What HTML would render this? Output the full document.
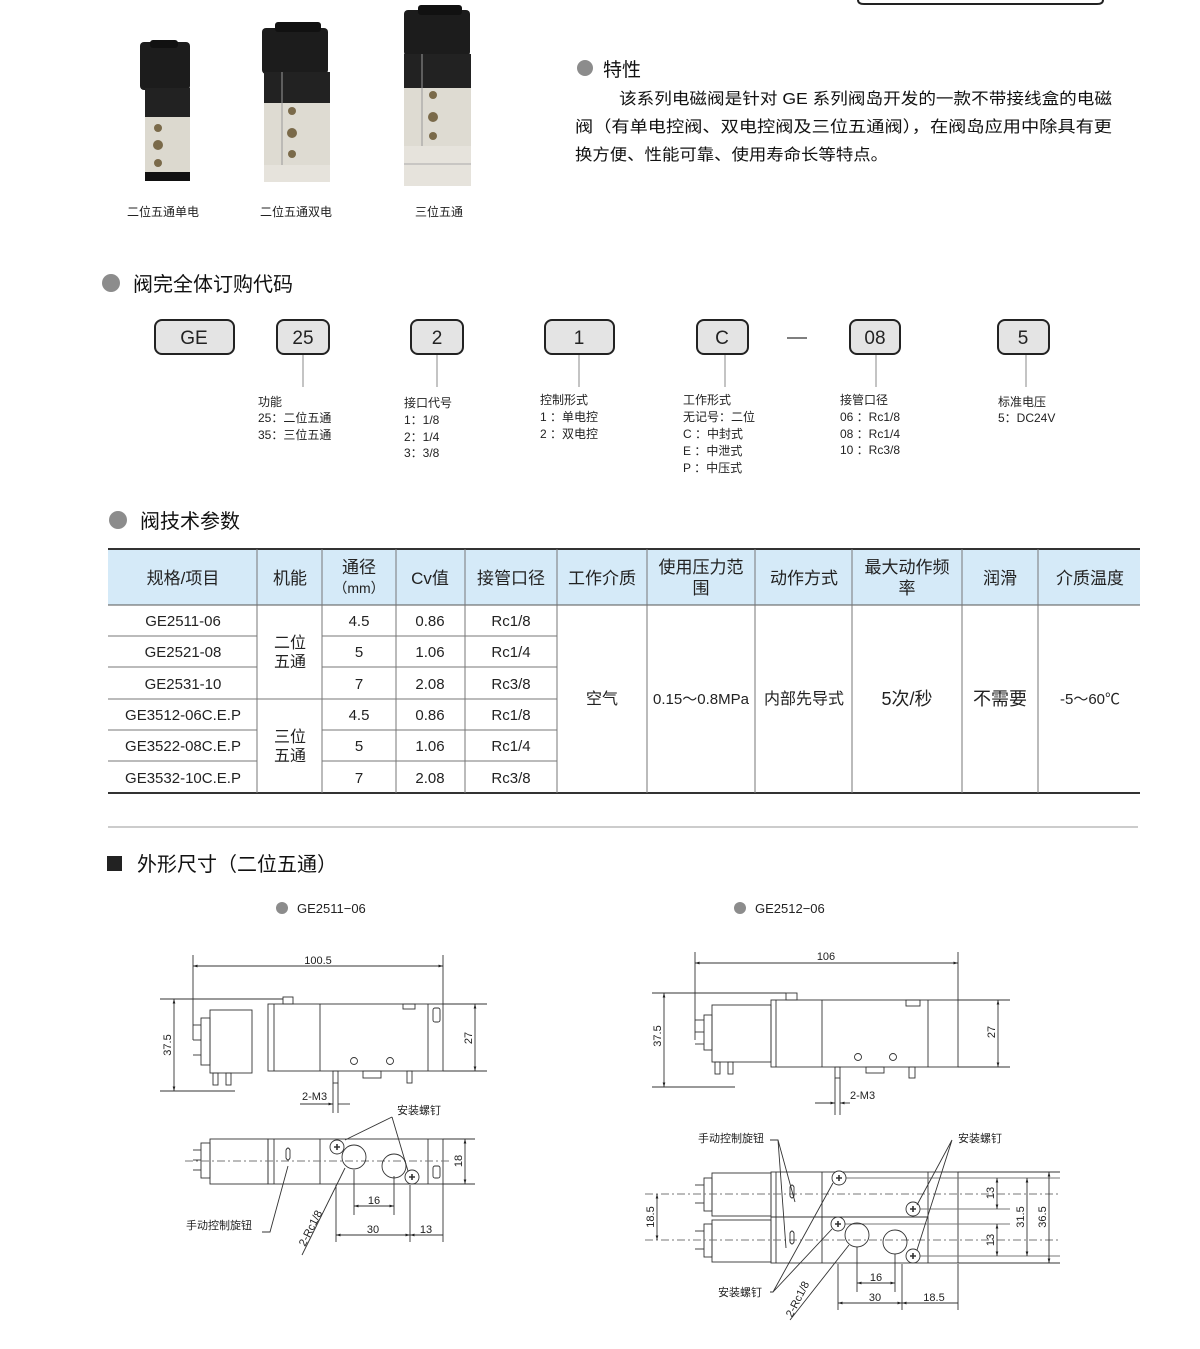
<!DOCTYPE html>
<html><head><meta charset="utf-8">
<style>
html,body{margin:0;padding:0;background:#fff;}
body{width:1200px;height:1349px;overflow:hidden;position:relative;font-family:"Liberation Sans","Noto Sans CJK SC",sans-serif;}
svg{position:absolute;left:0;top:0;}
</style></head><body>
<svg width="1200" height="1349" viewBox="0 0 1200 1349" xmlns="http://www.w3.org/2000/svg" font-family="Liberation Sans, Noto Sans CJK SC, sans-serif">
<defs>
<marker id="a" viewBox="0 0 10 10" refX="10" refY="5" markerWidth="7" markerHeight="5" orient="auto-start-reverse"><path d="M0,2 L10,5 L0,8z" fill="#222"/></marker>
</defs>
<path d="M858,-10 L858,0 Q858,4 864,4 L1097,4 Q1103,4 1103,0 L1103,-10" fill="none" stroke="#222" stroke-width="2"/>

<g>
<rect x="140" y="42" width="50" height="48" rx="4" fill="#1c1c1c"/>
<rect x="150" y="40" width="28" height="8" rx="3" fill="#111"/>
<rect x="145" y="88" width="45" height="30" fill="#222"/>
<rect x="145" y="117" width="45" height="56" fill="#dcd9cf"/>
<circle cx="158" cy="128" r="4" fill="#7a6a4a"/><circle cx="158" cy="145" r="5" fill="#7a6a4a"/><circle cx="158" cy="163" r="4" fill="#7a6a4a"/>
<rect x="145" y="172" width="45" height="9" fill="#111"/>
</g>
<g>
<rect x="262" y="28" width="66" height="46" rx="4" fill="#1c1c1c"/>
<rect x="275" y="22" width="46" height="10" rx="3" fill="#111"/>
<rect x="264" y="72" width="66" height="32" fill="#222"/>
<rect x="264" y="103" width="66" height="62" fill="#dedbd2"/>
<rect x="264" y="165" width="66" height="17" fill="#e6e3dc"/>
<circle cx="292" cy="111" r="4" fill="#7a6a4a"/><circle cx="292" cy="133" r="5" fill="#7a6a4a"/><circle cx="292" cy="154" r="4" fill="#7a6a4a"/>
<line x1="282" y1="72" x2="282" y2="165" stroke="#999"/>
</g>
<g>
<rect x="404" y="10" width="66" height="46" rx="4" fill="#1c1c1c"/>
<rect x="418" y="5" width="44" height="10" rx="3" fill="#111"/>
<rect x="404" y="54" width="67" height="34" fill="#222"/>
<rect x="404" y="88" width="67" height="60" fill="#dedbd2"/>
<rect x="404" y="146" width="67" height="40" fill="#e6e3dc"/>
<line x1="404" y1="164" x2="471" y2="164" stroke="#aaa"/>
<circle cx="433" cy="95" r="4" fill="#7a6a4a"/><circle cx="433" cy="117" r="5" fill="#7a6a4a"/><circle cx="433" cy="136" r="4" fill="#7a6a4a"/>
<line x1="422" y1="54" x2="422" y2="146" stroke="#999"/>
</g>
<g font-size="12" fill="#222">
<text x="127" y="216">二位五通单电</text>
<text x="260" y="216">二位五通双电</text>
<text x="415" y="216">三位五通</text>
</g>

<circle cx="585" cy="68" r="8" fill="#8c8c8c"/>
<text x="603" y="76" font-size="19" fill="#111">特性</text>
<g font-size="16" fill="#111">
<text x="619" y="104" textLength="493" lengthAdjust="spacingAndGlyphs">该系列电磁阀是针对 GE 系列阀岛开发的一款不带接线盒的电磁</text>
<text x="575" y="132" textLength="537" lengthAdjust="spacingAndGlyphs">阀（有单电控阀、双电控阀及三位五通阀），在阀岛应用中除具有更</text>
<text x="575" y="160" textLength="313" lengthAdjust="spacingAndGlyphs">换方便、性能可靠、使用寿命长等特点。</text>
</g>

<circle cx="111" cy="283" r="9" fill="#8c8c8c"/>
<text x="133" y="291" font-size="20" fill="#111">阀完全体订购代码</text>
<g fill="#e4e4e4" stroke="#222" stroke-width="2">
<rect x="155" y="320" width="79" height="34" rx="7"/>
<rect x="277" y="320" width="52" height="34" rx="7"/>
<rect x="411" y="320" width="52" height="34" rx="7"/>
<rect x="545" y="320" width="69" height="34" rx="7"/>
<rect x="697" y="320" width="51" height="34" rx="7"/>
<rect x="850" y="320" width="50" height="34" rx="7"/>
<rect x="998" y="320" width="51" height="34" rx="7"/>
</g>
<g font-size="19" fill="#222" text-anchor="middle">
<text x="194" y="344">GE</text><text x="303" y="344">25</text><text x="437" y="344">2</text>
<text x="579" y="344">1</text><text x="722" y="344">C</text><text x="875" y="344">08</text><text x="1023" y="344">5</text>
</g>
<line x1="787" y1="338" x2="807" y2="338" stroke="#333" stroke-width="1.2"/>
<g stroke="#888" stroke-width="1">
<line x1="303" y1="355" x2="303" y2="387"/><line x1="437" y1="355" x2="437" y2="387"/>
<line x1="579" y1="355" x2="579" y2="387"/><line x1="725" y1="355" x2="725" y2="387"/>
<line x1="876" y1="355" x2="876" y2="387"/><line x1="1026" y1="355" x2="1026" y2="387"/>
</g>
<g font-size="12" fill="#222">
<text x="258" y="406">功能</text><text x="258" y="422">25：二位五通</text><text x="258" y="439">35：三位五通</text>
<text x="404" y="407">接口代号</text><text x="404" y="424">1：1/8</text><text x="404" y="441">2：1/4</text><text x="404" y="457">3：3/8</text>
<text x="540" y="404">控制形式</text><text x="540" y="421">1 ：单电控</text><text x="540" y="438">2 ：双电控</text>
<text x="683" y="404">工作形式</text><text x="683" y="421">无记号：二位</text><text x="683" y="438">C ：中封式</text><text x="683" y="455">E ：中泄式</text><text x="683" y="472">P ：中压式</text>
<text x="840" y="404">接管口径</text><text x="840" y="421">06 ：Rc1/8</text><text x="840" y="438">08 ：Rc1/4</text><text x="840" y="454">10 ：Rc3/8</text>
<text x="998" y="406">标准电压</text><text x="998" y="422">5：DC24V</text>
</g>

<circle cx="118" cy="520" r="9" fill="#8c8c8c"/>
<text x="140" y="528" font-size="20" fill="#111">阀技术参数</text>
<rect x="108" y="549" width="1032" height="56" fill="#d5eaf8"/>
<line x1="108" y1="549" x2="1140" y2="549" stroke="#333" stroke-width="2"/>
<line x1="108" y1="605" x2="1140" y2="605" stroke="#555" stroke-width="1"/>
<line x1="108" y1="793" x2="1140" y2="793" stroke="#333" stroke-width="2"/>
<g stroke="#777" stroke-width="1">
<line x1="257" y1="549" x2="257" y2="793"/><line x1="322" y1="549" x2="322" y2="793"/>
<line x1="396" y1="549" x2="396" y2="793"/><line x1="465" y1="549" x2="465" y2="793"/>
<line x1="557" y1="549" x2="557" y2="793"/><line x1="647" y1="549" x2="647" y2="793"/>
<line x1="755" y1="549" x2="755" y2="793"/><line x1="852" y1="549" x2="852" y2="793"/>
<line x1="962" y1="549" x2="962" y2="793"/><line x1="1038" y1="549" x2="1038" y2="793"/>
<line x1="108" y1="636" x2="257" y2="636"/><line x1="322" y1="636" x2="557" y2="636"/>
<line x1="108" y1="667" x2="257" y2="667"/><line x1="322" y1="667" x2="557" y2="667"/>
<line x1="108" y1="699" x2="557" y2="699"/>
<line x1="108" y1="730" x2="257" y2="730"/><line x1="322" y1="730" x2="557" y2="730"/>
<line x1="108" y1="761" x2="257" y2="761"/><line x1="322" y1="761" x2="557" y2="761"/>
</g>
<g font-size="17" fill="#222" text-anchor="middle">
<text x="183" y="584">规格/项目</text><text x="290" y="584">机能</text>
<text x="359" y="573">通径</text><text x="359" y="593" font-size="14">（mm）</text>
<text x="430" y="584">Cv值</text><text x="511" y="584">接管口径</text><text x="602" y="584">工作介质</text>
<text x="701" y="573">使用压力范</text><text x="701" y="594">围</text>
<text x="804" y="584">动作方式</text>
<text x="907" y="573">最大动作频</text><text x="907" y="594">率</text>
<text x="1000" y="584">润滑</text><text x="1090" y="584">介质温度</text>
</g>
<g font-size="15" fill="#222" text-anchor="middle">
<text x="183" y="626">GE2511-06</text><text x="183" y="657">GE2521-08</text><text x="183" y="689">GE2531-10</text>
<text x="183" y="720">GE3512-06C.E.P</text><text x="183" y="751">GE3522-08C.E.P</text><text x="183" y="783">GE3532-10C.E.P</text>
<text x="359" y="626">4.5</text><text x="359" y="657">5</text><text x="359" y="689">7</text>
<text x="359" y="720">4.5</text><text x="359" y="751">5</text><text x="359" y="783">7</text>
<text x="430" y="626">0.86</text><text x="430" y="657">1.06</text><text x="430" y="689">2.08</text>
<text x="430" y="720">0.86</text><text x="430" y="751">1.06</text><text x="430" y="783">2.08</text>
<text x="511" y="626">Rc1/8</text><text x="511" y="657">Rc1/4</text><text x="511" y="689">Rc3/8</text>
<text x="511" y="720">Rc1/8</text><text x="511" y="751">Rc1/4</text><text x="511" y="783">Rc3/8</text>
<text x="290" y="648" font-size="16">二位</text><text x="290" y="667" font-size="16">五通</text>
<text x="290" y="742" font-size="16">三位</text><text x="290" y="761" font-size="16">五通</text>
<text x="602" y="704" font-size="16">空气</text>
<text x="701" y="704">0.15～0.8MPa</text>
<text x="804" y="704" font-size="16">内部先导式</text>
<text x="907" y="705" font-size="18">5次/秒</text>
<text x="1000" y="705" font-size="18">不需要</text>
<text x="1090" y="704">-5～60℃</text>
</g>

<line x1="108" y1="827" x2="1138" y2="827" stroke="#999" stroke-width="1"/>
<rect x="107" y="856" width="15" height="15" fill="#222"/>
<text x="137" y="871" font-size="20" fill="#111">外形尺寸（二位五通）</text>
<circle cx="282" cy="908" r="6" fill="#8c8c8c"/><text x="297" y="913" font-size="13" fill="#222">GE2511−06</text>
<circle cx="740" cy="908" r="6" fill="#8c8c8c"/><text x="755" y="913" font-size="13" fill="#222">GE2512−06</text>

<g stroke="#333" stroke-width="0.9" fill="none">
<line x1="193" y1="955" x2="193" y2="1040"/><line x1="443" y1="955" x2="443" y2="1004"/>
<line x1="193" y1="966" x2="443" y2="966" marker-start="url(#a)" marker-end="url(#a)"/>
<line x1="160" y1="999" x2="283" y2="999"/><line x1="160" y1="1091" x2="235" y2="1091"/>
<line x1="174" y1="999" x2="174" y2="1091" marker-start="url(#a)" marker-end="url(#a)"/>
<line x1="443" y1="1004" x2="487" y2="1004"/><line x1="443" y1="1071" x2="487" y2="1071"/>
<line x1="475" y1="1004" x2="475" y2="1071" marker-start="url(#a)" marker-end="url(#a)"/>
<rect x="210" y="1010" width="42" height="63"/>
<rect x="201" y="1018" width="9" height="47"/><line x1="193" y1="1025" x2="201" y2="1025"/><line x1="193" y1="1040" x2="201" y2="1040"/><line x1="193" y1="1055" x2="201" y2="1055"/>
<rect x="213" y="1073" width="5" height="12"/><rect x="226" y="1073" width="5" height="12"/>
<rect x="268" y="1004" width="175" height="67"/>
<line x1="274" y1="1004" x2="274" y2="1071"/><line x1="320" y1="1004" x2="320" y2="1071"/><line x1="428" y1="1004" x2="428" y2="1071"/>
<rect x="283" y="997" width="10" height="7"/>
<rect x="403" y="1004" width="12" height="5"/><rect x="433" y="1008" width="7" height="14" rx="2"/>
<circle cx="354" cy="1061" r="3.5"/><circle cx="390" cy="1061" r="3.5"/>
<rect x="333" y="1071" width="5" height="12"/><rect x="407" y="1071" width="5" height="12"/>
<rect x="363" y="1071" width="18" height="7"/>
<line x1="333" y1="1083" x2="333" y2="1113"/><line x1="338" y1="1083" x2="338" y2="1113"/>
<line x1="300" y1="1104" x2="333" y2="1104" marker-end="url(#a)"/><line x1="338" y1="1104" x2="350" y2="1104"/>
<rect x="268" y="1139" width="175" height="45"/>
<line x1="274" y1="1139" x2="274" y2="1184"/><line x1="320" y1="1139" x2="320" y2="1184"/><line x1="428" y1="1139" x2="428" y2="1184"/>
<rect x="210" y="1139" width="58" height="45"/>
<rect x="201" y="1143" width="9" height="35"/><line x1="193" y1="1150" x2="201" y2="1150"/><line x1="193" y1="1160" x2="201" y2="1160"/><line x1="193" y1="1170" x2="201" y2="1170"/>
<line x1="185" y1="1161" x2="450" y2="1161" stroke-dasharray="8 3 2 3" stroke="#777"/>
<circle cx="354" cy="1157" r="12"/><circle cx="394" cy="1166" r="12"/>
<circle cx="337" cy="1147" r="7"/><circle cx="412" cy="1177" r="7"/>
<path d="M334,1147h6M337,1144v6M409,1177h6M412,1174v6" stroke-width="1.6"/>
<path d="M286,1150 q2,-4 4,0 l0,8 q-2,4 -4,0z"/>
<rect x="433" y="1166" width="7" height="12" rx="2"/>
<line x1="443" y1="1139" x2="475" y2="1139"/><line x1="443" y1="1184" x2="475" y2="1184"/>
<line x1="465" y1="1139" x2="465" y2="1184" marker-start="url(#a)" marker-end="url(#a)"/>
<line x1="354" y1="1170" x2="354" y2="1215"/><line x1="394" y1="1176" x2="394" y2="1215"/>
<line x1="354" y1="1206" x2="394" y2="1206" marker-start="url(#a)" marker-end="url(#a)"/>
<line x1="336" y1="1185" x2="336" y2="1242"/><line x1="410" y1="1185" x2="410" y2="1242"/><line x1="443" y1="1184" x2="443" y2="1242"/>
<line x1="336" y1="1235" x2="410" y2="1235" marker-start="url(#a)" marker-end="url(#a)"/>
<line x1="410" y1="1235" x2="443" y2="1235" marker-start="url(#a)"/>
<path d="M392,1117 L345,1140 M392,1117 L408,1171"/>
<path d="M262,1232 h8 L288,1166"/>
<line x1="302" y1="1255" x2="345" y2="1168"/>
</g>
<g font-size="11" fill="#222">
<text x="318" y="964" text-anchor="middle">100.5</text>
<text x="174" y="1045" transform="rotate(-90 174 1045)" text-anchor="middle" dy="-3">37.5</text>
<text x="475" y="1038" transform="rotate(-90 475 1038)" text-anchor="middle" dy="-3">27</text>
<text x="302" y="1100">2-M3</text>
<text x="397" y="1114">安装螺钉</text>
<text x="465" y="1161" transform="rotate(-90 465 1161)" text-anchor="middle" dy="-3">18</text>
<text x="374" y="1204" text-anchor="middle">16</text>
<text x="373" y="1233" text-anchor="middle">30</text>
<text x="426" y="1233" text-anchor="middle">13</text>
<text x="186" y="1229">手动控制旋钮</text>
<text x="305" y="1247" transform="rotate(-63 305 1247)">2-Rc1/8</text>
</g>

<g stroke="#333" stroke-width="0.9" fill="none">
<line x1="695" y1="952" x2="695" y2="1040"/><line x1="958" y1="952" x2="958" y2="1000"/>
<line x1="695" y1="963" x2="958" y2="963" marker-start="url(#a)" marker-end="url(#a)"/>
<line x1="652" y1="993" x2="786" y2="993"/><line x1="652" y1="1087" x2="735" y2="1087"/>
<line x1="664" y1="993" x2="664" y2="1087" marker-start="url(#a)" marker-end="url(#a)"/>
<line x1="958" y1="1000" x2="1010" y2="1000"/><line x1="958" y1="1067" x2="1010" y2="1067"/>
<line x1="998" y1="1000" x2="998" y2="1067" marker-start="url(#a)" marker-end="url(#a)"/>
<rect x="712" y="1005" width="59" height="57"/>
<rect x="704" y="1015" width="8" height="35"/><line x1="695" y1="1020" x2="704" y2="1020"/><line x1="695" y1="1032" x2="704" y2="1032"/><line x1="695" y1="1044" x2="704" y2="1044"/>
<rect x="715" y="1062" width="5" height="12"/><rect x="728" y="1062" width="5" height="12"/>
<rect x="771" y="1000" width="187" height="67"/>
<line x1="776" y1="1000" x2="776" y2="1067"/><line x1="822" y1="1000" x2="822" y2="1067"/><line x1="928" y1="1000" x2="928" y2="1067"/>
<rect x="786" y="993" width="11" height="7"/><rect x="906" y="1000" width="14" height="6"/>
<circle cx="858" cy="1057" r="3.5"/><circle cx="893" cy="1057" r="3.5"/>
<rect x="835" y="1067" width="5" height="11"/><rect x="909" y="1067" width="6" height="11"/><rect x="866" y="1067" width="18" height="6"/>
<line x1="835" y1="1078" x2="835" y2="1115"/><line x1="840" y1="1078" x2="840" y2="1115"/>
<line x1="815" y1="1103" x2="835" y2="1103" marker-end="url(#a)"/><line x1="840" y1="1103" x2="850" y2="1103" marker-start="url(#a)"/>
<rect x="771" y="1172" width="187" height="91"/>
<line x1="771" y1="1217" x2="928" y2="1217"/>
<line x1="776" y1="1172" x2="776" y2="1263"/><line x1="822" y1="1172" x2="822" y2="1263"/><line x1="928" y1="1172" x2="928" y2="1263"/>
<rect x="712" y="1173" width="59" height="43"/><rect x="712" y="1220" width="59" height="42"/>
<rect x="704" y="1178" width="8" height="33"/><rect x="704" y="1224" width="8" height="33"/>
<line x1="695" y1="1185" x2="704" y2="1185"/><line x1="695" y1="1203" x2="704" y2="1203"/><line x1="695" y1="1231" x2="704" y2="1231"/><line x1="695" y1="1249" x2="704" y2="1249"/>
<line x1="645" y1="1194" x2="1060" y2="1194" stroke-dasharray="8 3 2 3" stroke="#777"/>
<line x1="645" y1="1240" x2="1060" y2="1240" stroke-dasharray="8 3 2 3" stroke="#777"/>
<line x1="839" y1="1178" x2="1060" y2="1178" stroke="#777"/><line x1="913" y1="1209" x2="1010" y2="1209" stroke="#777"/>
<line x1="838" y1="1224" x2="1010" y2="1224" stroke="#777"/><line x1="913" y1="1256" x2="1060" y2="1256" stroke="#777"/>
<line x1="958" y1="1172" x2="1060" y2="1172"/><line x1="958" y1="1263" x2="1060" y2="1263"/>
<circle cx="857" cy="1235" r="12"/><circle cx="895" cy="1242" r="12"/>
<circle cx="839" cy="1178" r="7" fill="#fff"/><circle cx="913" cy="1209" r="7" fill="#fff"/><circle cx="838" cy="1224" r="7" fill="#fff"/><circle cx="913" cy="1256" r="7" fill="#fff"/>
<path d="M836,1178h6M839,1175v6M910,1209h6M913,1206v6M835,1224h6M838,1221v6M910,1256h6M913,1253v6" stroke-width="1.6"/>
<path d="M790,1187 q2,-4 4,0 l0,9 q-2,4 -4,0z M790,1233 q2,-4 4,0 l0,9 q-2,4 -4,0z"/>
<line x1="657" y1="1194" x2="657" y2="1240" marker-start="url(#a)" marker-end="url(#a)"/>
<line x1="997" y1="1178" x2="997" y2="1209" marker-start="url(#a)" marker-end="url(#a)"/>
<line x1="997" y1="1224" x2="997" y2="1256" marker-start="url(#a)" marker-end="url(#a)"/>
<line x1="1027" y1="1178" x2="1027" y2="1256" marker-start="url(#a)" marker-end="url(#a)"/>
<line x1="1049" y1="1172" x2="1049" y2="1263" marker-start="url(#a)" marker-end="url(#a)"/>
<line x1="857" y1="1247" x2="857" y2="1292"/><line x1="895" y1="1254" x2="895" y2="1292"/>
<line x1="838" y1="1264" x2="838" y2="1310"/><line x1="902" y1="1264" x2="902" y2="1310"/><line x1="958" y1="1264" x2="958" y2="1310"/>
<line x1="857" y1="1283" x2="895" y2="1283" marker-start="url(#a)" marker-end="url(#a)"/>
<line x1="838" y1="1303" x2="902" y2="1303" marker-start="url(#a)" marker-end="url(#a)"/>
<line x1="902" y1="1303" x2="958" y2="1303" marker-start="url(#a)"/>
<path d="M770,1140 h8 L795,1202 M778,1140 L786,1248"/>
<path d="M952,1140 L917,1205 M952,1140 L917,1250"/>
<path d="M770,1292 h3 L833,1183 M773,1292 L832,1229"/>
<line x1="790" y1="1320" x2="849" y2="1245"/>
</g>
<g font-size="11" fill="#222">
<text x="826" y="960" text-anchor="middle">106</text>
<text x="664" y="1036" transform="rotate(-90 664 1036)" text-anchor="middle" dy="-3">37.5</text>
<text x="998" y="1032" transform="rotate(-90 998 1032)" text-anchor="middle" dy="-3">27</text>
<text x="850" y="1099">2-M3</text>
<text x="698" y="1142">手动控制旋钮</text>
<text x="958" y="1142">安装螺钉</text>
<text x="718" y="1296">安装螺钉</text>
<text x="657" y="1217" transform="rotate(-90 657 1217)" text-anchor="middle" dy="-3">18.5</text>
<text x="997" y="1193" transform="rotate(-90 997 1193)" text-anchor="middle" dy="-3">13</text>
<text x="997" y="1240" transform="rotate(-90 997 1240)" text-anchor="middle" dy="-3">13</text>
<text x="1027" y="1217" transform="rotate(-90 1027 1217)" text-anchor="middle" dy="-3">31.5</text>
<text x="1049" y="1217" transform="rotate(-90 1049 1217)" text-anchor="middle" dy="-3">36.5</text>
<text x="876" y="1281" text-anchor="middle">16</text>
<text x="875" y="1301" text-anchor="middle">30</text>
<text x="934" y="1301" text-anchor="middle">18.5</text>
<text x="792" y="1318" transform="rotate(-63 792 1318)">2-Rc1/8</text>
</g>
</svg>
</body></html>
